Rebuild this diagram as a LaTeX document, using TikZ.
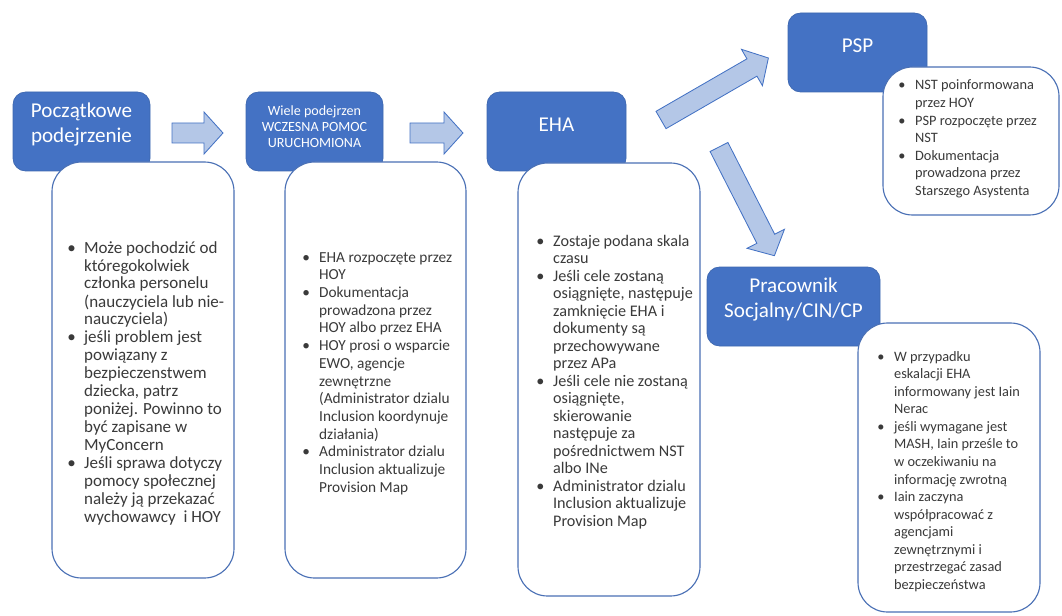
\documentclass[tikz,border=0pt]{standalone}
\usepackage{fontspec}
\setmainfont{Carlito}
\usetikzlibrary{fit}

\definecolor{boxblue}{HTML}{4472C4}
\definecolor{arrowblue}{HTML}{B4C7E7}
\definecolor{edgeblue}{HTML}{4A70B5}
\definecolor{textgray}{HTML}{3A3A3A}

\newcommand{\bl}{\textbullet}

\tikzset{
  titlebox/.style={fill=boxblue, draw=boxblue!90!black, line width=0.5pt,
    rounded corners=9pt, inner sep=0pt, text=white, align=center,
    font=\fontsize{15}{18}\selectfont},
  notebox/.style={fill=white, draw=edgeblue, line width=0.8pt,
    rounded corners=21pt, inner sep=0pt},
  notetext/.style={anchor=base west, inner sep=0pt, text=textgray,
    font=\fontsize{10.2}{12.5}\selectfont},
  blockarr/.style={fill=arrowblue, draw=boxblue, line width=0.6pt, line join=miter},
}

% block arrow: tail point, angle, length
\newcommand{\blockarrow}[3]{%
  \begin{scope}[shift={#1}, rotate=#2]
    \draw[blockarr] (0,-10) -- (#3-19,-10) -- (#3-19,-21) -- (#3,0)
      -- (#3-19,21) -- (#3-19,10) -- (0,10) -- cycle;
  \end{scope}}

\begin{document}
\begin{tikzpicture}[x=0.025cm, y=-0.025cm]
  \useasboundingbox (0,0) rectangle (1062,616);

  % title boxes
  \node[titlebox, fit={(13,92) (150,171)}] (first) {Początkowe\\podejrzenie};
  \node[titlebox, fit={(246,92) (383,171)}, font=\fontsize{10}{11.4}\selectfont] (many)
    {Wiele podejrzen\\WCZESNA POMOC\\URUCHOMIONA};
  \node[titlebox, fit={(487,92) (626,171)}] (eha) {EHA};
  \node[titlebox, fit={(788,13) (927,92)}] (psp) {PSP};
  \node[titlebox, fit={(707,267) (880,346)}] (social) {Pracownik\\Socjalny/CIN/CP};

  % note boxes
  \node[notebox, fit={(52,162) (234,578)}] (firstnote) {};
  \node[notebox, fit={(285,162) (466,578)}] (manynote) {};
  \node[notebox, fit={(518,163) (700,596)}] (ehanote) {};
  \node[notebox, fit={(883,67) (1059,215)}] (pspnote) {};
  \node[notebox, fit={(858,323) (1040,612)}] (socialnote) {};

  % arrows
  \blockarrow{(172,133)}{0}{51}
  \blockarrow{(410,133)}{0}{53}
  \blockarrow{(661,120)}{30}{124}
  \blockarrow{(719,147)}{-63}{122}

  % texts
  \node[notetext, font=\fontsize{12.1}{12.8}\selectfont] (firsttext) at (67,253)
  {\begin{tabular}[t]{@{}p{12pt}@{}l@{}}
    \bl & Może pochodzić od\\
        & któregokolwiek\\
        & członka personelu\\
        & (nauczyciela lub nie-\\
        & nauczyciela)\\
    \bl & jeśli problem jest\\
        & powiązany z\\
        & bezpieczenstwem\\
        & dziecka, patrz\\
        & poniżej. Powinno to\\
        & być zapisane w\\
        & MyConcern\\
    \bl & Jeśli sprawa dotyczy\\
        & pomocy społecznej\\
        & należy ją przekazać\\
        & wychowawcy \ i HOY
  \end{tabular}};

  \node[notetext, font=\fontsize{10.9}{12.6}\selectfont] (manytext) at (302,262)
  {\begin{tabular}[t]{@{}p{12pt}@{}l@{}}
    \bl & EHA rozpoczęte przez\\
        & HOY\\
    \bl & Dokumentacja\\
        & prowadzona przez\\
        & HOY albo przez EHA\\
    \bl & HOY prosi o wsparcie\\
        & EWO, agencje\\
        & zewnętrzne\\
        & (Administrator dzialu\\
        & Inclusion koordynuje\\
        & działania)\\
    \bl & Administrator dzialu\\
        & Inclusion aktualizuje\\
        & Provision Map
  \end{tabular}};

  \node[notetext, font=\fontsize{11.5}{12.45}\selectfont] (ehatext) at (536,246)
  {\begin{tabular}[t]{@{}p{12pt}@{}l@{}}
    \bl & Zostaje podana skala\\
        & czasu\\
    \bl & Jeśli cele zostaną\\
        & osiągnięte, następuje\\
        & zamknięcie EHA i\\
        & dokumenty są\\
        & przechowywane\\
        & przez APa\\
    \bl & Jeśli cele nie zostaną\\
        & osiągnięte,\\
        & skierowanie\\
        & następuje za\\
        & pośrednictwem NST\\
        & albo INe\\
    \bl & Administrator dzialu\\
        & Inclusion aktualizuje\\
        & Provision Map
  \end{tabular}};

  \node[notetext] (psptext) at (898,90)
  {\begin{tabular}[t]{@{}p{12pt}@{}l@{}}
    \bl & NST poinformowana\\
        & przez HOY\\
    \bl & PSP rozpoczęte przez\\
        & NST\\
    \bl & Dokumentacja\\
        & prowadzona przez\\
        & Starszego Asystenta
  \end{tabular}};

  \node[notetext] (socialtext) at (877,361)
  {\begin{tabular}[t]{@{}p{12pt}@{}l@{}}
    \bl & W przypadku\\
        & eskalacji EHA\\
        & informowany jest Iain\\
        & Nerac\\
    \bl & jeśli wymagane jest\\
        & MASH, Iain prześle to\\
        & w oczekiwaniu na\\
        & informację zwrotną\\
    \bl & Iain zaczyna\\
        & współpracować z\\
        & agencjami\\
        & zewnętrznymi i\\
        & przestrzegać zasad\\
        & bezpieczeństwa
  \end{tabular}};
\end{tikzpicture}
\end{document}
